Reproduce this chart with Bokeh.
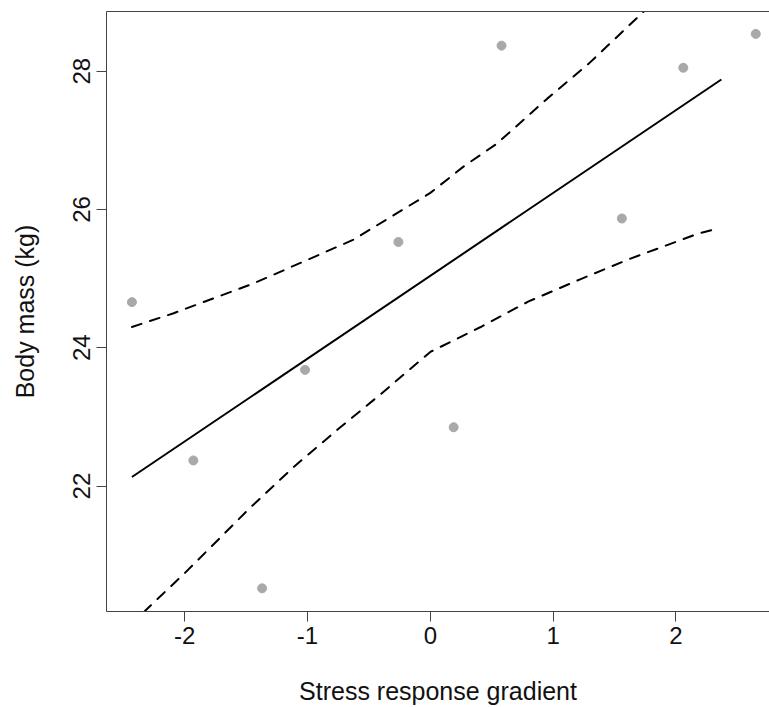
from bokeh.plotting import figure
from bokeh.models import LinearAxis, FixedTicker, Range1d
from bokeh.embed import file_html
from bokeh.resources import INLINE

# observed points
x_obs = [-2.43, -1.93, -1.37, -1.02, -0.26, 0.19, 0.58, 1.56, 2.06, 2.65]
y_obs = [24.66, 22.37, 20.52, 23.68, 25.53, 22.85, 28.37, 25.87, 28.05, 28.54]

# fitted line
fit_x = [-2.43, 2.37]
fit_y = [22.13, 27.88]

# confidence band (upper / lower)
upper_x = [-2.43, -2.09, -1.44, -0.63, 0.0, 0.27, 0.54, 0.95, 1.29, 1.73, 2.37]
upper_y = [24.30, 24.50, 24.93, 25.56, 26.24, 26.62, 26.95, 27.60, 28.11, 28.85, 30.0]
lower_x = [-2.43, -2.32, -2.0, -1.47, -1.11, -0.76, -0.41, 0.0, 0.41, 0.80, 1.22, 1.63, 2.18, 2.35]
lower_y = [19.96, 20.20, 20.74, 21.68, 22.28, 22.81, 23.32, 23.94, 24.30, 24.67, 24.99, 25.29, 25.65, 25.73]

x_ticks = [-2, -1, 0, 1, 2]
x_tick_labels = ["-2", "-1", "0", "1", "2"]
y_ticks = [22, 24, 26, 28]
y_tick_labels = ["22", "24", "26", "28"]

FONT = "Liberation Sans"
AXIS_COL = "#444444"

p = figure(width=769, height=707, output_backend="svg", toolbar_location=None,
           x_range=Range1d(-2.637, 2.762), y_range=Range1d(20.185, 28.864),
           min_border_left=106, min_border_right=0, min_border_top=11,
           min_border_bottom=95)
p.outline_line_color = None
p.grid.visible = False
p.background_fill_color = "white"
p.border_fill_color = "white"

p.xaxis.ticker = FixedTicker(ticks=x_ticks)
p.yaxis.ticker = FixedTicker(ticks=y_ticks)
p.xaxis.major_label_overrides = dict(zip(x_ticks, x_tick_labels))
p.yaxis.major_label_overrides = dict(zip(y_ticks, y_tick_labels))
p.xaxis.axis_label = "Stress response gradient"
p.yaxis.axis_label = "Body mass (kg)"
for ax in (p.xaxis, p.yaxis):
    ax.axis_line_color = AXIS_COL
    ax.axis_line_width = 1
    ax.major_tick_line_color = AXIS_COL
    ax.major_tick_out = 10
    ax.major_tick_in = 0
    ax.minor_tick_line_color = None
    ax.major_label_text_font = FONT
    ax.major_label_text_font_size = "24px"
    ax.major_label_text_color = "#111111"
    ax.axis_label_text_font = FONT
    ax.axis_label_text_font_size = "25px"
    ax.axis_label_text_font_style = "normal"
    ax.axis_label_text_color = "#111111"
p.xaxis.major_label_standoff = 5
p.xaxis.axis_label_standoff = 30
p.yaxis.major_label_standoff = 6
p.yaxis.major_label_orientation = "parallel"
p.yaxis.axis_label_standoff = 32

top_axis = LinearAxis(ticker=FixedTicker(ticks=[]), axis_line_color=AXIS_COL,
                      major_tick_line_color=None, minor_tick_line_color=None,
                      major_tick_out=0, major_tick_in=0, minor_tick_out=0, minor_tick_in=0,
                      major_label_text_font_size="0px", major_label_standoff=0)
p.add_layout(top_axis, "above")

p.line(upper_x, upper_y, line_color="black", line_width=2, line_dash="10 9", line_cap="round")
p.line(lower_x, lower_y, line_color="black", line_width=2, line_dash="10 9", line_cap="round")
p.line(fit_x, fit_y, line_color="black", line_width=2)
p.scatter(x_obs, y_obs, size=9, fill_color="#a9a9a9", line_color="#a9a9a9")

open("out.html", "w").write(file_html(p, INLINE))
